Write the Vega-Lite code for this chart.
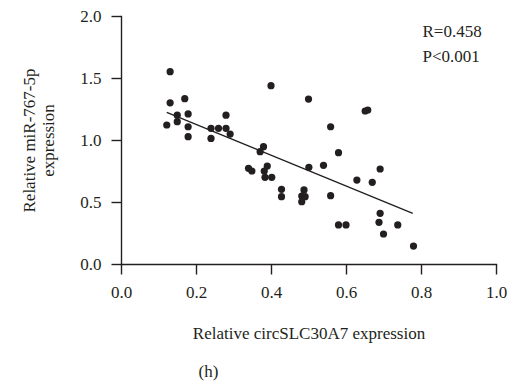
{
  "$schema": "https://vega.github.io/schema/vega-lite/v6.json",
  "width": 375,
  "height": 248,
  "autosize": {"type": "none"},
  "padding": {"left": 121, "top": 16, "right": 11, "bottom": 117},
  "background": "white",
  "title": {"text": "(h)", "orient": "bottom", "anchor": "middle", "dx": -100, "offset": 23, "font": "Liberation Serif", "fontSize": 17, "fontWeight": "normal", "color": "#231f20"},
  "config": {
    "view": {"stroke": null},
    "font": "Liberation Serif",
    "axis": {
      "grid": false,
      "labelFlush": false,
      "labelFont": "Liberation Serif",
      "labelFontSize": 17,
      "labelColor": "#231f20",
      "labelPadding": 10,
      "titleFont": "Liberation Serif",
      "titleFontSize": 17,
      "titleFontWeight": "normal",
      "titleColor": "#231f20",
      "domain": true,
      "domainColor": "#231f20",
      "domainWidth": 1.4,
      "domainCap": "square",
      "ticks": true,
      "tickColor": "#231f20",
      "tickWidth": 1.4,
      "tickSize": 10
    }
  },
  "datasets": {
    "points": [
      {"x": 0.131, "y": 1.551}, {"x": 0.131, "y": 1.30}, {"x": 0.170, "y": 1.333}, {"x": 0.150, "y": 1.20},
      {"x": 0.150, "y": 1.148}, {"x": 0.179, "y": 1.21}, {"x": 0.122, "y": 1.121}, {"x": 0.179, "y": 1.107},
      {"x": 0.179, "y": 1.027}, {"x": 0.240, "y": 1.094}, {"x": 0.240, "y": 1.013}, {"x": 0.260, "y": 1.094},
      {"x": 0.280, "y": 1.094}, {"x": 0.280, "y": 1.20}, {"x": 0.291, "y": 1.048}, {"x": 0.400, "y": 1.438},
      {"x": 0.380, "y": 0.946}, {"x": 0.371, "y": 0.906}, {"x": 0.340, "y": 0.772}, {"x": 0.349, "y": 0.75},
      {"x": 0.390, "y": 0.79}, {"x": 0.382, "y": 0.75}, {"x": 0.384, "y": 0.699}, {"x": 0.402, "y": 0.699},
      {"x": 0.428, "y": 0.602}, {"x": 0.428, "y": 0.543},
      {"x": 0.500, "y": 1.33}, {"x": 0.559, "y": 1.107}, {"x": 0.651, "y": 1.234}, {"x": 0.658, "y": 1.242},
      {"x": 0.580, "y": 0.898}, {"x": 0.501, "y": 0.78}, {"x": 0.540, "y": 0.796}, {"x": 0.691, "y": 0.766},
      {"x": 0.629, "y": 0.677}, {"x": 0.670, "y": 0.659}, {"x": 0.488, "y": 0.597}, {"x": 0.482, "y": 0.548},
      {"x": 0.491, "y": 0.543}, {"x": 0.482, "y": 0.502}, {"x": 0.559, "y": 0.551},
      {"x": 0.691, "y": 0.409}, {"x": 0.688, "y": 0.336}, {"x": 0.580, "y": 0.315}, {"x": 0.600, "y": 0.315},
      {"x": 0.700, "y": 0.242}, {"x": 0.738, "y": 0.315}, {"x": 0.780, "y": 0.145}
    ],
    "fit": [
      {"x": 0.122, "y": 1.223},
      {"x": 0.778, "y": 0.409}
    ],
    "stats": [
      {"x": 0.804, "y": 1.83, "label": "R=0.458"},
      {"x": 0.804, "y": 1.63, "label": "P<0.001"}
    ]
  },
  "layer": [
    {
      "data": {"name": "fit"},
      "mark": {"type": "line", "color": "#231f20", "strokeWidth": 1.3},
      "encoding": {
        "x": {"field": "x", "type": "quantitative", "scale": {"domain": [0, 1], "nice": false},
              "axis": {"values": [0, 0.2, 0.4, 0.6, 0.8, 1.0], "format": ".1f", "title": "Relative circSLC30A7 expression", "titlePadding": 25}},
        "y": {"field": "y", "type": "quantitative", "scale": {"domain": [0, 2], "nice": false},
              "axis": {"values": [0, 0.5, 1.0, 1.5, 2.0], "format": ".1f", "title": ["Relative miR-767-5p", "expression"], "titlePadding": 22}}
      }
    },
    {
      "data": {"name": "points"},
      "mark": {"type": "circle", "size": 52, "opacity": 1, "color": "#231f20"},
      "encoding": {
        "x": {"field": "x", "type": "quantitative"},
        "y": {"field": "y", "type": "quantitative"}
      }
    },
    {
      "data": {"name": "stats"},
      "mark": {"type": "text", "align": "left", "baseline": "alphabetic", "font": "Liberation Serif", "fontSize": 17, "color": "#231f20"},
      "encoding": {
        "x": {"field": "x", "type": "quantitative"},
        "y": {"field": "y", "type": "quantitative"},
        "text": {"field": "label"}
      }
    }
  ]
}
